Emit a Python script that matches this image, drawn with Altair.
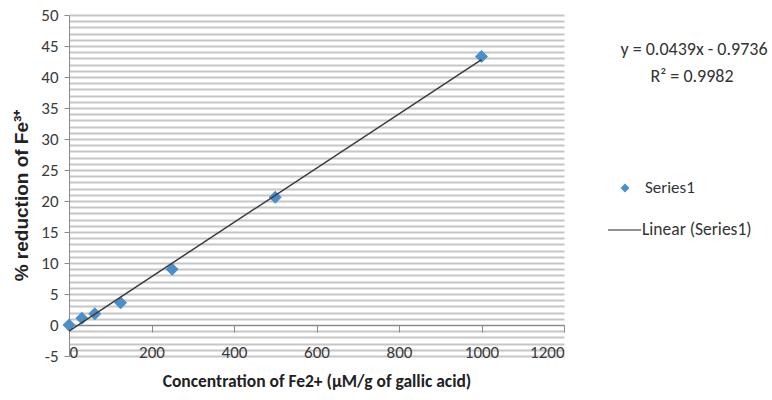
import altair as alt
import pandas as pd

# ---- data ----
conc = [0, 31.25, 62.5, 125, 250, 500, 1000]
reduction = [0.0, 1.1, 1.8, 3.6, 9.0, 20.6, 43.3]
x_ticks = [0, 200, 400, 600, 800, 1000, 1200]
y_ticks = list(range(-5, 51))
equation = ["y = 0.0439x - 0.9736"]
r_squared = ["R² = 0.9982"]
series_name = ["Series1"]
trend_name = ["Linear (Series1)"]

df = pd.DataFrame({"x": conc, "y": reduction})

FONT = "Carlito, Lato, sans-serif"
BLUE = "#4a8fc8"

x_enc = alt.X(
    "x:Q",
    scale=alt.Scale(domain=[0, 1200], nice=False, zero=False),
    axis=alt.Axis(
        values=x_ticks, tickCount=20, format="d", offset=-31, grid=False,
        domainColor="#8a8a8a", tickColor="#8a8a8a", tickSize=7,
        labelPadding=12, labelFont=FONT, labelFontSize=17, labelColor="#3a3a3a",
        title="Concentration of Fe2+ (µM/g of gallic acid)",
        titleFont=FONT, titleFontSize=17.5, titleFontWeight="bold",
        titleColor="#222222", titlePadding=12,
    ),
)
y_enc = alt.Y(
    "y:Q",
    scale=alt.Scale(domain=[-5, 50], nice=False, zero=False),
    axis=alt.Axis(
        values=y_ticks, tickCount=80,
        labelExpr="datum.value % 5 === 0 ? '' + datum.value : ''",
        labelOverlap=False,
        tickColor={"condition": {"test": "datum.value % 5 === 0", "value": "#8a8a8a"},
                   "value": "transparent"},
        tickSize=5, labelPadding=6,
        labelFont=FONT, labelFontSize=17, labelColor="#3a3a3a",
        grid=True, gridColor="#c6c6c6", gridWidth=1.8,
        domainColor="#8a8a8a",
        title="% reduction of Fe³⁺",
        titleFont="Liberation Sans, Arial, sans-serif", titleFontSize=19,
        titleFontWeight="bold", titleColor="#222222", titlePadding=9,
        titleY=180, titleAlign="center",
    ),
)

base = alt.Chart(df)
points = base.mark_point(shape="diamond", filled=True, size=170, color=BLUE, opacity=1).encode(
    x=x_enc, y=y_enc
)
trend = base.transform_regression("x", "y").mark_line(color="#3c3c3c", strokeWidth=1.5).encode(
    x="x:Q", y="y:Q"
)

txt_kw = dict(font=FONT, color="#333333", baseline="middle")
eq_text = alt.Chart(pd.DataFrame({"t": equation})).mark_text(align="center", fontSize=18, **txt_kw).encode(
    x=alt.value(625), y=alt.value(35), text="t:N"
)
r2_text = alt.Chart(pd.DataFrame({"t": r_squared})).mark_text(align="center", fontSize=18, **txt_kw).encode(
    x=alt.value(623), y=alt.value(62), text="t:N"
)
leg_sym = alt.Chart(pd.DataFrame({"t": series_name})).mark_point(
    shape="diamond", filled=True, size=80, color=BLUE, opacity=1
).encode(x=alt.value(556), y=alt.value(173))
leg_s_text = alt.Chart(pd.DataFrame({"t": series_name})).mark_text(align="left", fontSize=17, **txt_kw).encode(
    x=alt.value(576), y=alt.value(173), text="t:N"
)
leg_line = alt.Chart(pd.DataFrame({"t": trend_name})).mark_rule(color="#222222", strokeWidth=1.2).encode(
    x=alt.value(539), x2=alt.value(572), y=alt.value(215)
)
leg_l_text = alt.Chart(pd.DataFrame({"t": trend_name})).mark_text(align="left", fontSize=17.5, **txt_kw).encode(
    x=alt.value(573), y=alt.value(215), text="t:N"
)

chart = alt.layer(
    points, trend, eq_text, r2_text, leg_sym, leg_s_text, leg_line, leg_l_text
).properties(
    width=495, height=341,
    autosize=alt.AutoSizeParams(type="none"),
    padding={"left": 69, "top": 15, "right": 208, "bottom": 44},
    background="white",
).configure_view(stroke=None)

chart.save("out.html", embed_options={"renderer": "svg", "actions": False})
